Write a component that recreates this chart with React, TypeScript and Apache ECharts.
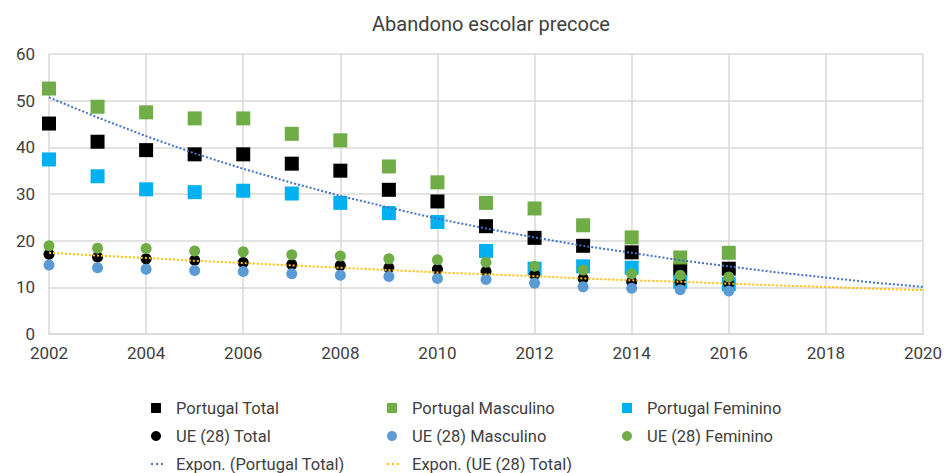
import React, { useEffect, useRef } from "react";
import * as echarts from "echarts";

const years = [2002, 2003, 2004, 2005, 2006, 2007, 2008, 2009, 2010, 2011, 2012, 2013, 2014, 2015, 2016];
const trendYears = [2002, 2003, 2004, 2005, 2006, 2007, 2008, 2009, 2010, 2011, 2012, 2013, 2014, 2015, 2016, 2017, 2018, 2019, 2020];

const ptTotal = [45.1, 41.2, 39.4, 38.5, 38.5, 36.5, 35.0, 30.9, 28.4, 23.1, 20.6, 18.9, 17.5, 13.7, 14.0];
const ptMasc = [52.6, 48.7, 47.5, 46.2, 46.2, 42.9, 41.5, 35.9, 32.5, 28.1, 26.9, 23.3, 20.7, 16.4, 17.4];
const ptFem = [37.4, 33.8, 31.0, 30.4, 30.7, 30.1, 28.1, 25.9, 24.0, 17.8, 14.0, 14.5, 14.2, 11.2, 10.7];
const ueTotal = [17.1, 16.5, 16.1, 15.8, 15.3, 14.9, 14.7, 14.2, 13.9, 13.4, 12.7, 11.9, 11.2, 11.1, 10.8];
const ueMasc = [14.8, 14.2, 13.9, 13.6, 13.4, 12.9, 12.6, 12.3, 11.9, 11.7, 10.9, 10.1, 9.8, 9.5, 9.2];
const ueFem = [18.9, 18.4, 18.3, 17.8, 17.6, 17.0, 16.7, 16.1, 15.9, 15.4, 14.5, 13.7, 12.9, 12.6, 12.2];
const ptTrend = [50.7, 46.4, 42.4, 38.7, 35.4, 32.4, 29.6, 27.1, 24.7, 22.6, 20.7, 18.9, 17.4, 15.8, 14.5, 13.2, 12.1, 11.0, 10.1];
const ueTrend = [17.4, 16.8, 16.3, 15.7, 15.2, 14.7, 14.2, 13.7, 13.2, 12.8, 12.4, 11.9, 11.5, 11.2, 10.8, 10.4, 10.1, 9.7, 9.4];

const names = {
  ptTotal: "Portugal Total",
  ptMasc: "Portugal Masculino",
  ptFem: "Portugal Feminino",
  ueTotal: "UE (28) Total",
  ueMasc: "UE (28) Masculino",
  ueFem: "UE (28) Feminino",
  ptTrend: "Expon. (Portugal Total)",
  ueTrend: "Expon. (UE (28) Total)",
};

const FONT = "Roboto";
const TEXT = "#404040";

const pair = (xs: number[], ys: number[]) => xs.map((x, i) => [x, ys[i]]);

export default function App() {
  const ref = useRef<HTMLDivElement>(null);
  useEffect(() => {
    if (!ref.current) return;
    const chart = echarts.init(ref.current, null, { renderer: "svg" });
    const dotIcon = "path://M0,8h2v2h-2zM5,8h2v2h-2zM10,8h2v2h-2z";
    const cols = [151, 387, 622];
    const rows = [408, 436, 464];
    const leg = (name: string, icon: string, col: number, row: number) => ({
      orient: "horizontal" as const,
      left: cols[col],
      top: rows[row] - 9,
      padding: 0,
      itemWidth: icon === "circle" ? 10 : icon === "rect" ? 10 : 12,
      itemHeight: icon === "circle" ? 10 : icon === "rect" ? 10 : 10,
      data: [{ name, icon }],
      textStyle: { fontFamily: FONT, fontSize: 16.5, color: TEXT, lineHeight: 18, padding: [0, 0, 0, icon.startsWith("path") ? 8 : 10] },
    });
    const sq = (name: string, data: number[], color: string) => ({
      name,
      type: "scatter",
      symbol: "rect",
      symbolSize: 14,
      itemStyle: { color, opacity: 1 },
      data: pair(years, data),
      z: 3,
    });
    const ci = (name: string, data: number[], color: string) => ({
      name,
      type: "scatter",
      symbol: "circle",
      symbolSize: 11,
      itemStyle: { color, opacity: 1 },
      data: pair(years, data),
      z: 4,
    });
    const tr = (name: string, data: number[], color: string) => ({
      name,
      type: "line",
      showSymbol: false,
      symbol: "none",
      smooth: false,
      lineStyle: { color, width: 2, type: [2, 2] },
      itemStyle: { color },
      data: pair(trendYears, data),
      z: 5,
    });
    chart.setOption({
      animation: false,
      backgroundColor: "#fff",
      title: {
        text: "Abandono escolar precoce",
        left: 486,
        textAlign: "center",
        top: 9,
        textStyle: { fontFamily: FONT, fontSize: 20, fontWeight: "normal", color: TEXT },
      },
      grid: { left: 49, right: 23, top: 54, bottom: 139, containLabel: false },
      xAxis: {
        type: "value",
        min: 2002,
        max: 2020,
        interval: 2,
        axisLine: { show: true, lineStyle: { color: "#D9D9D9", width: 1.5 } },
        axisTick: { show: false },
        splitLine: { show: true, lineStyle: { color: "#D9D9D9", width: 1.5 } },
        axisLabel: { fontFamily: FONT, fontSize: 17, color: TEXT, margin: 10, formatter: (v: number) => String(v) },
      },
      yAxis: {
        type: "value",
        min: 0,
        max: 60,
        interval: 10,
        axisLine: { show: false },
        axisTick: { show: false },
        splitLine: { show: true, lineStyle: { color: "#D9D9D9", width: 1.5 } },
        axisLabel: { fontFamily: FONT, fontSize: 17, color: TEXT, margin: 14 },
      },
      legend: [
        leg(names.ptTotal, "rect", 0, 0),
        leg(names.ueTotal, "circle", 0, 1),
        leg(names.ptTrend, dotIcon, 0, 2),
        leg(names.ptMasc, "rect", 1, 0),
        leg(names.ueMasc, "circle", 1, 1),
        leg(names.ueTrend, dotIcon, 1, 2),
        leg(names.ptFem, "rect", 2, 0),
        leg(names.ueFem, "circle", 2, 1),
      ],
      series: [
        sq(names.ptTotal, ptTotal, "#000000"),
        sq(names.ptMasc, ptMasc, "#70AD47"),
        sq(names.ptFem, ptFem, "#00B0F0"),
        ci(names.ueTotal, ueTotal, "#000000"),
        ci(names.ueMasc, ueMasc, "#5B9BD5"),
        ci(names.ueFem, ueFem, "#70AD47"),
        tr(names.ptTrend, ptTrend, "#4472C4"),
        tr(names.ueTrend, ueTrend, "#FFC000"),
      ],
    });
    return () => chart.dispose();
  }, []);
  return <div ref={ref} style={{ width: 946, height: 473, position: "absolute", left: 0, top: 0 }} />;
}
